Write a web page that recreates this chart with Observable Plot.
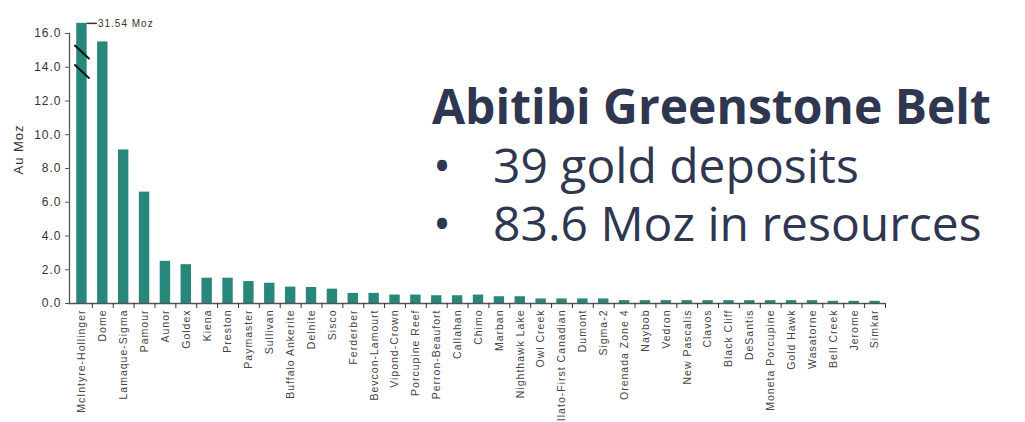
<!DOCTYPE html>
<html><head><meta charset="utf-8">
<script src="https://cdn.jsdelivr.net/npm/d3@7"></script>
<script src="https://cdn.jsdelivr.net/npm/@observablehq/plot@0.6"></script>
<style>
body{margin:0;background:#fff;}
#wrap{position:relative;width:1025px;height:422px;overflow:hidden;background:#fff;}
#wrap svg{position:absolute;left:0;top:0;}
.t{position:absolute;font-family:"Open Sans",sans-serif;color:#2e3650;font-size:48px;line-height:48px;white-space:nowrap;}
.b{font-weight:700;}
</style></head><body>
<div id="wrap"></div>
<script>
// ---- data ----
const deposits = ["McIntyre-Hollinger","Dome","Lamaque-Sigma","Pamour","Aunor","Goldex","Kiena","Preston","Paymaster","Sullivan",
  "Buffalo Ankerite","Delnite","Sisco","Ferderber","Bevcon-Lamourt","Vipond-Crown","Porcupine Reef","Perron-Beaufort","Callahan","Chimo",
  "Marban","Nighthawk Lake","Owl Creek","Ilato-First Canadian","Dumont","Sigma-2","Orenada Zone 4","Naybob","Vedron","New Pascalis",
  "Clavos","Black Cliff","DeSantis","Moneta Porcupine","Gold Hawk","Wasatorne","Bell Creek","Jerome","Simkar"];
const resourcesMoz = [31.54,15.5,9.1,6.6,2.5,2.3,1.5,1.5,1.3,1.2,
  0.97,0.95,0.85,0.6,0.6,0.5,0.5,0.46,0.46,0.5,
  0.4,0.4,0.27,0.27,0.27,0.27,0.17,0.17,0.17,0.17,
  0.17,0.17,0.17,0.17,0.17,0.17,0.13,0.13,0.13];
const yTicks = [0,2,4,6,8,10,12,14,16];
const yLabel = "Au Moz";
const breakTop = 16.6;          // displayed top of a broken bar
const breakMarks = [14.9, 13.75]; // y values of the axis-break slashes
const title = "Abitibi Greenstone Belt";
const bullets = ["39 gold deposits", "83.6 Moz in resources"];

// ---- build ----
const W = 1025, H = 422, mL = 69, mR = 140, mT = 33, mB = 119, inset = 2;
const step = (W - mL - mR - inset) / deposits.length;
const data = deposits.map((name, i) => ({name, value: resourcesMoz[i], shown: Math.min(resourcesMoz[i], breakTop)}));
const broken = data.filter(d => d.value > breakTop);
const slashes = broken.flatMap(d => breakMarks.map(y => ({name: d.name, y})));
const line = {draw(ctx, l) { ctx.moveTo(0, 0); ctx.lineTo(0, -l); }};
const barInset = (step - 10.4) / 2;

const plot = Plot.plot({
  width: W, height: H, marginLeft: mL, marginRight: mR, marginTop: mT, marginBottom: mB,
  style: {fontFamily: "'Liberation Sans', Arial, sans-serif", background: "transparent", overflow: "visible", letterSpacing: "1px"},
  x: {type: "band", domain: deposits, padding: 0, insetLeft: inset, label: null},
  y: {domain: [0, 16], label: null},
  marks: [
    Plot.barY(data, {x: "name", y: "shown", fill: "#27877a", insetLeft: barInset, insetRight: barInset}),
    Plot.vector(slashes, {x: "name", y: "y", length: 19, rotate: 133, anchor: "middle", shape: line, stroke: "#111", strokeWidth: 2}),
    Plot.tickY(broken, {x: "name", y: "shown", stroke: "#333", strokeWidth: 1.5, insetLeft: step / 2 + 5, insetRight: -5}),
    Plot.text(broken, {x: "name", y: "shown", text: d => `${d.value} Moz`, textAnchor: "start", dx: 16, fontSize: 10, fill: "#333"}),
    Plot.frame({anchor: "left", stroke: "#555", strokeWidth: 1.3}),
    Plot.ruleY([0], {stroke: "#555", strokeWidth: 1.5}),
    Plot.axisY({ticks: yTicks, tickFormat: d3.format(".1f"), tickSize: 4, tickPadding: 4, fontSize: 12, fill: "#333", stroke: "#555", label: null}),
    Plot.axisX({tickSize: 5, fill: "none", dx: step / 2, stroke: "#333", label: null}),
    Plot.axisX({tickSize: 0, tickRotate: -90, textAnchor: "end", tickPadding: 6, fontSize: 10.5, fill: "#444", label: null}),
    Plot.text([yLabel], {frameAnchor: "left", rotate: -90, dx: -51, dy: 6, fontSize: 13, fill: "#333", letterSpacing: "1.5px"})
  ]
});
const wrap = document.getElementById("wrap");
wrap.appendChild(plot);

function addText(txt, left, top, cls) {
  const d = document.createElement("div");
  d.className = "t " + (cls || "");
  d.style.left = left + "px"; d.style.top = top + "px";
  d.textContent = txt; wrap.appendChild(d);
}
addText(title, 432, 82, "b");
bullets.forEach((b, i) => {
  addText("•", 433, 141 + i * 58.4);
  addText(b, 493, 141 + i * 58.4);
});
</script>
</body></html>
